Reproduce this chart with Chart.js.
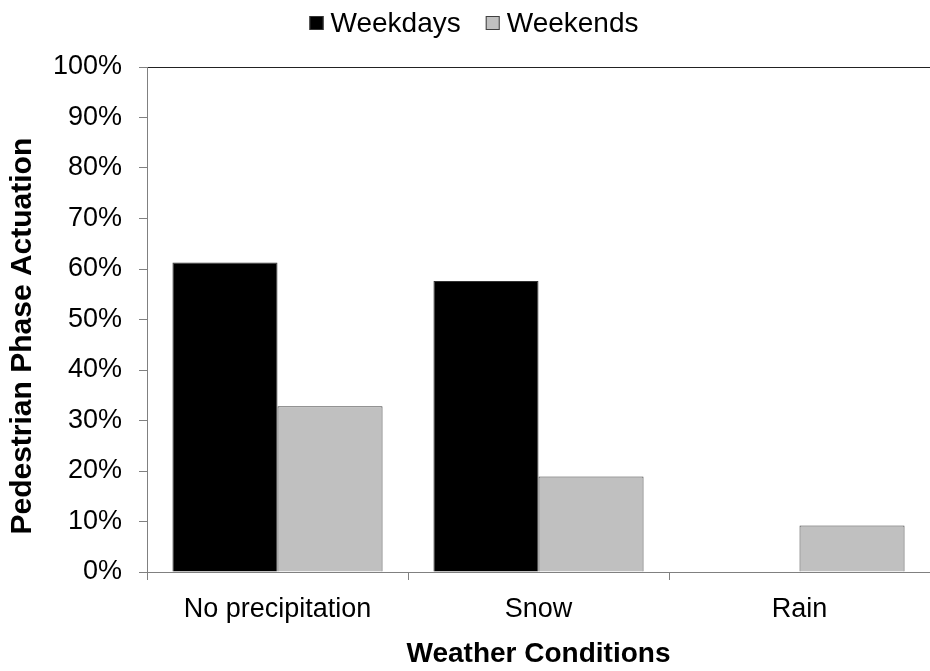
<!DOCTYPE html>
<html>
<head>
<meta charset="utf-8">
<script src="https://cdn.jsdelivr.net/npm/chart.js@4"></script>
<style>
  html, body { margin: 0; padding: 0; background: #fff; }
  #wrap { width: 930px; height: 671px; }
</style>
</head>
<body>
<div id="wrap"><canvas id="chart" width="930" height="671"></canvas></div>
<script>
// Dados do gráfico
const categories = ['No precipitation', 'Snow', 'Rain'];
const weekdays = [61.3, 57.6, 0];
const weekends = [32.8, 18.9, 9.2];
const yTicks = [0, 10, 20, 30, 40, 50, 60, 70, 80, 90, 100];

const FONT = "'Liberation Sans', Arial, sans-serif";

// Legenda desenhada à mão (caixa colada ao texto, como no original)
const topLegend = {
    id: 'topLegend',
    afterDraw(chart) {
        const c = chart.ctx;
        const box = 14, gap = 7, itemGap = 25;
        c.save();
        c.font = '28px ' + FONT;
        c.textBaseline = 'middle';
        const items = chart.data.datasets.map(ds => ({
            ds: ds,
            w: box + gap + c.measureText(ds.label).width
        }));
        const total = items.reduce((s, it) => s + it.w, 0) + itemGap * (items.length - 1);
        let x = 474 - total / 2;
        const y = 23;
        items.forEach(it => {
            c.fillStyle = it.ds.backgroundColor;
            c.fillRect(x, y - box / 2, box, box);
            c.strokeStyle = it.ds.borderColor;
            c.lineWidth = 1;
            c.strokeRect(x + 0.5, y - box / 2 + 0.5, box - 1, box - 1);
            c.fillStyle = '#000';
            c.fillText(it.ds.label, x + box + gap, y + 1);
            x += it.w + itemGap;
        });
        c.restore();
    }
};

// Inicializar o gráfico
const ctx = document.getElementById('chart');
new Chart(ctx, {
    type: 'bar',
    data: {
        labels: categories,
        datasets: [
            {
                label: 'Weekdays',
                data: weekdays,
                backgroundColor: '#000000',
                borderColor: '#333333',
                borderWidth: 1,
                categoryPercentage: 0.805,
                barPercentage: 1.0
            },
            {
                label: 'Weekends',
                data: weekends,
                backgroundColor: '#c0c0c0',
                borderColor: '#404040',
                borderWidth: 1,
                categoryPercentage: 0.805,
                barPercentage: 1.0
            }
        ]
    },
    options: {
        responsive: false,
        animation: false,
        layout: { padding: { top: 67, right: 0, bottom: 0, left: 0 } },
        plugins: {
            legend: { display: false },
            tooltip: { enabled: false }
        },
        scales: {
            x: {
                grid: {
                    offset: true,
                    drawOnChartArea: false,
                    drawTicks: true,
                    tickLength: 8,
                    color: '#808080'
                },
                border: { display: true, color: '#808080', width: 1 },
                ticks: {
                    color: '#000',
                    font: { family: FONT, size: 27 },
                    padding: 13,
                    maxRotation: 0
                },
                title: {
                    display: true,
                    text: 'Weather Conditions',
                    color: '#000',
                    font: { family: FONT, size: 28, weight: 'bold' },
                    padding: { top: 5, bottom: 0 }
                },
                afterFit: function(scale) { scale.height = 99; }
            },
            y: {
                min: 0,
                max: 100,
                afterBuildTicks: function(scale) {
                    scale.ticks = yTicks.map(v => ({ value: v }));
                },
                grid: {
                    drawOnChartArea: true,
                    drawTicks: true,
                    tickLength: 8,
                    color: function(c) { return c.tick && c.tick.value === 100 ? '#222222' : 'rgba(0,0,0,0)'; },
                    tickColor: '#808080'
                },
                border: { display: true, color: '#808080', width: 1 },
                ticks: {
                    color: '#000',
                    font: { family: FONT, size: 27 },
                    padding: 17,
                    callback: function(v) { return v + '%'; }
                },
                title: {
                    display: true,
                    // espaços no fim para descer um pouco o título, como no original
                    text: 'Pedestrian Phase Actuation\u00A0\u00A0\u00A0\u00A0',
                    color: '#000',
                    font: { family: FONT, size: 30, weight: 'bold' },
                    padding: { top: 5, bottom: 0 }
                },
                afterFit: function(scale) { scale.width = 147; }
            }
        }
    },
    plugins: [topLegend]
});
</script>
</body>
</html>
